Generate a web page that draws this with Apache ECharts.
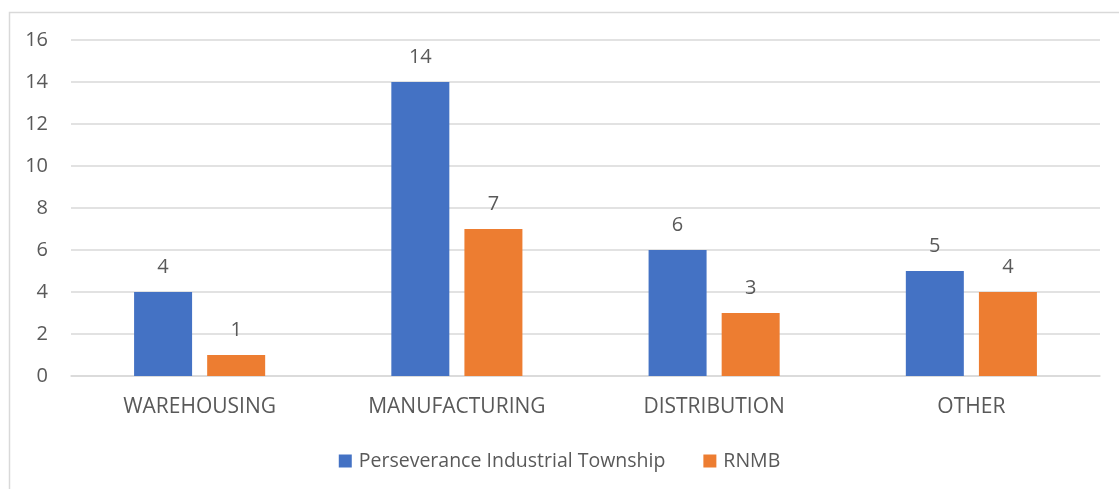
<!DOCTYPE html>
<html>
<head>
<meta charset="utf-8">
<script src="https://cdn.jsdelivr.net/npm/echarts@6/dist/echarts.min.js"></script>
<style>
html,body{margin:0;padding:0;background:#fff;}
#chart{width:1119px;height:489px;}
</style>
</head>
<body>
<div id="chart"></div>
<script>
const categories = ['WAREHOUSING', 'MANUFACTURING', 'DISTRIBUTION', 'OTHER'];
const seriesNames = ['Perseverance Industrial Township', 'RNMB'];
const perseverance = [4, 14, 6, 5];
const rnmb = [1, 7, 3, 4];
const colors = ['#4472C4', '#ED7D31'];
const FONT = 'Open Sans';

const chart = echarts.init(document.getElementById('chart'));
const labelStyle = {show: true, position: 'top', distance: 15, color: '#595959', fontSize: 20, fontFamily: FONT};
chart.setOption({
  animation: false,
  graphic: [{
    type: 'rect', left: 7, top: 10, shape: {width: 1200, height: 600},
    style: {fill: 'none', stroke: '#d9d9d9', lineWidth: 1.5}, z: -1
  }],
  grid: {left: 71, right: 19, top: 40, bottom: 113, containLabel: false},
  legend: {
    top: 446, left: 'center', itemWidth: 13, itemHeight: 13, itemGap: 38,
    icon: 'rect',
    textStyle: {color: '#595959', fontSize: 19.5, fontFamily: FONT, padding: [0, 0, 0, 2]},
    data: seriesNames
  },
  xAxis: {
    type: 'category', data: categories,
    axisLine: {lineStyle: {color: '#d9d9d9', width: 1.5}},
    axisTick: {show: false},
    axisLabel: {color: '#595959', fontSize: 21, fontFamily: FONT, margin: 21}
  },
  yAxis: {
    type: 'value', min: 0, max: 16, interval: 2,
    axisLine: {show: false}, axisTick: {show: false},
    axisLabel: {color: '#595959', fontSize: 20, fontFamily: FONT, margin: 23},
    splitLine: {lineStyle: {color: '#d9d9d9', width: 1.5}}
  },
  series: [
    {name: seriesNames[0], type: 'bar', data: perseverance, barWidth: 58, barGap: '26%',
     itemStyle: {color: colors[0]}, label: labelStyle},
    {name: seriesNames[1], type: 'bar', data: rnmb, barWidth: 58, barGap: '26%',
     itemStyle: {color: colors[1]}, label: labelStyle}
  ]
});
</script>
</body>
</html>
